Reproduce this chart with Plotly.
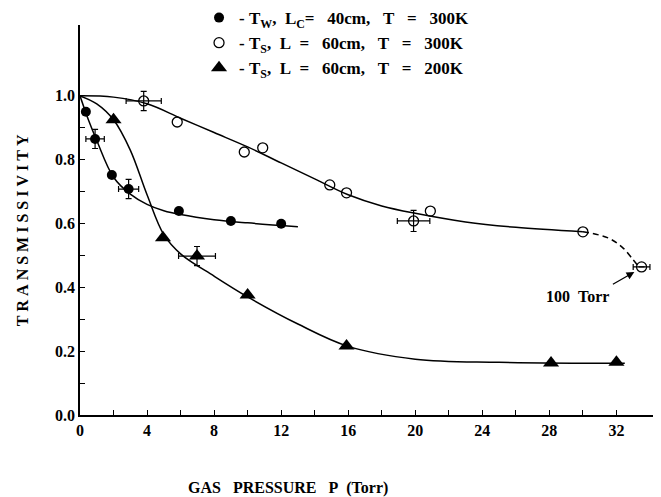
import plotly.graph_objects as go

# ---- data ----
# Filled circles: T_W, L_C = 40 cm, T = 300 K
tw_p = [0.35, 0.9, 1.9, 2.9, 5.9, 9.0, 12.0]
tw_t = [0.95, 0.865, 0.752, 0.708, 0.639, 0.608, 0.599]
tw_ex = [None, 0.55, None, 0.6, None, None, None]
tw_ey = [None, 0.03, None, 0.03, None, None, None]
tw_fit_p = [0, 0.5, 1, 2, 3, 4, 5, 6, 8, 10, 13]
tw_fit_t = [1.0, 0.925, 0.86, 0.745, 0.692, 0.66, 0.64, 0.628, 0.612, 0.602, 0.59]

# Open circles: T_S, L = 60 cm, T = 300 K
ts3_p = [3.8, 5.8, 9.8, 10.9, 14.9, 15.9, 19.9, 20.9, 30.0, 33.5]
ts3_t = [0.984, 0.918, 0.824, 0.837, 0.721, 0.696, 0.608, 0.639, 0.574, 0.464]
ts3_ex = [1.05, None, None, None, None, None, 0.97, None, None, 0.5]
ts3_ey = [0.03, None, None, None, None, None, 0.033, None, None, 0.0]
ts3_fit_p = [0, 2, 4, 6, 8, 10, 12, 14, 16, 18, 20, 23, 26, 30]
ts3_fit_t = [1.0, 0.996, 0.975, 0.93, 0.885, 0.84, 0.79, 0.74, 0.69, 0.655, 0.632, 0.605, 0.588, 0.574]
ts3_dash_p = [30.0, 31.5, 32.4, 33.0, 33.25]
ts3_dash_t = [0.574, 0.555, 0.523, 0.486, 0.47]

# Triangles: T_S, L = 60 cm, T = 200 K
ts2_p = [2.0, 4.95, 6.98, 10.0, 15.9, 28.1, 32.0]
ts2_t = [0.925, 0.555, 0.498, 0.376, 0.216, 0.163, 0.165]
ts2_ex = [None, None, 1.1, None, None, None, None]
ts2_ey = [None, None, 0.03, None, None, None, None]
ts2_fit_p = [0, 1, 2, 3, 4, 5, 6, 8, 10, 13, 16, 20, 25, 32.5]
ts2_fit_t = [1.0, 0.975, 0.925, 0.83, 0.69, 0.565, 0.505, 0.435, 0.37, 0.285, 0.215, 0.175, 0.165, 0.162]

x_tickvals = [0, 4, 8, 12, 16, 20, 24, 28, 32]
x_minorvals = [2, 6, 10, 14, 18, 22, 26, 30]
y_tickvals = [0.0, 0.2, 0.4, 0.6, 0.8, 1.0]
y_ticktext = ["0.0", "0.2", "0.4", "0.6", "0.8", "1.0"]
y_minorvals = [0.1, 0.3, 0.5, 0.7, 0.9]

NB = "\u00a0"
legend_names = [
    f"-{NB}T<sub>W</sub>,{NB}{NB}L<sub>C</sub>={NB}{NB}{NB}40cm,{NB}{NB}{NB}T{NB}{NB}{NB}={NB}{NB}{NB}300K",
    f"-{NB}T<sub>S</sub>,{NB}{NB}L{NB}{NB}={NB}{NB}{NB}60cm,{NB}{NB}{NB}T{NB}{NB}{NB}={NB}{NB}{NB}300K",
    f"-{NB}T<sub>S</sub>,{NB}{NB}L{NB}{NB}={NB}{NB}{NB}60cm,{NB}{NB}{NB}T{NB}{NB}{NB}={NB}{NB}{NB}200K",
]

FONT = "Liberation Serif"
BLK = "black"

fig = go.Figure()

# fitted curves
for px, py in [(tw_fit_p, tw_fit_t), (ts3_fit_p, ts3_fit_t), (ts2_fit_p, ts2_fit_t)]:
    fig.add_trace(go.Scatter(x=px, y=py, mode="lines", line=dict(color=BLK, width=1.5, shape="spline", smoothing=1.0),
                             showlegend=False, hoverinfo="skip"))
fig.add_trace(go.Scatter(x=ts3_dash_p, y=ts3_dash_t, mode="lines",
                         line=dict(color=BLK, width=1.5, dash="6px,4px", shape="spline"),
                         showlegend=False, hoverinfo="skip"))


def err_subset(px, py, ex, ey):
    idx = [i for i in range(len(px)) if ex[i] is not None]
    return ([px[i] for i in idx], [py[i] for i in idx],
            [ex[i] for i in idx], [ey[i] if ey[i] is not None else 0 for i in idx])


series = [
    (tw_p, tw_t, tw_ex, tw_ey, dict(symbol="circle", size=10, color=BLK), legend_names[0]),
    (ts3_p, ts3_t, ts3_ex, ts3_ey, dict(symbol="circle-open", size=10, color=BLK, line=dict(width=1.3, color=BLK)), legend_names[1]),
    (ts2_p, ts2_t, ts2_ex, ts2_ey, dict(symbol="triangle-up", size=14, color=BLK), legend_names[2]),
]

# error bars (only on the points that have them), drawn as separate traces
for px, py, ex, ey, mk, nm in series:
    sx, sy, sex, sey = err_subset(px, py, ex, ey)
    fig.add_trace(go.Scatter(
        x=sx, y=sy, mode="markers", marker=dict(size=1, opacity=0), showlegend=False, hoverinfo="skip",
        error_x=dict(type="data", array=sex, color=BLK, thickness=1.2, width=3),
        error_y=dict(type="data", array=sey, color=BLK, thickness=1.2, width=3, visible=any(v > 0 for v in sey))))

# data markers
for px, py, ex, ey, mk, nm in series:
    fig.add_trace(go.Scatter(x=px, y=py, mode="markers", name=nm, marker=mk))

fig.add_annotation(x=29.7, y=0.37, text="<b>100\u00a0\u00a0Torr</b>", showarrow=False,
                   font=dict(family=FONT, size=16, color=BLK))
fig.add_annotation(x=33.07, y=0.448, ax=31.7, ay=0.407, axref="x", ayref="y",
                   text="", showarrow=True, arrowhead=2, arrowsize=1.2, arrowwidth=1.3, arrowcolor=BLK)

fig.add_annotation(xref="paper", yref="paper", x=-0.1, y=0.474, xanchor="center", yanchor="middle", textangle=-90,
                   text="<b>T\u00a0R\u00a0A\u00a0N\u00a0S\u00a0M\u00a0I\u00a0S\u00a0S\u00a0I\u00a0V\u00a0I\u00a0T\u00a0Y</b>",
                   showarrow=False, font=dict(family=FONT, size=16, color=BLK))
fig.add_annotation(xref="paper", yref="paper", x=0.359, y=-0.187, xanchor="center", yanchor="middle",
                   text="<b>GAS\u00a0\u00a0\u00a0PRESSURE\u00a0\u00a0\u00a0P\u00a0\u00a0(Torr)</b>",
                   showarrow=False, font=dict(family=FONT, size=16, color=BLK))

fig.update_layout(
    width=661, height=497,
    margin=dict(l=72, r=9, t=17, b=90, autoexpand=False),
    paper_bgcolor="white", plot_bgcolor="white",
    font=dict(family=FONT, size=16, color=BLK),
    showlegend=True,
    legend=dict(xref="container", yref="paper", x=0.289, y=1.064, xanchor="left", yanchor="top",
                bgcolor="rgba(0,0,0,0)",
                font=dict(family=FONT, size=17, color=BLK, weight="bold"),
                tracegroupgap=0, itemwidth=30),
    xaxis=dict(range=[0, 34.6], showgrid=False, zeroline=False, showline=True, linecolor=BLK, linewidth=1.5,
               tickmode="array", tickvals=x_tickvals, ticks="inside", ticklen=5, tickwidth=1.2, tickcolor=BLK,
               tickfont=dict(family=FONT, size=16, color=BLK, weight="bold"),
               minor=dict(tickmode="array", tickvals=x_minorvals, ticks="inside", ticklen=5, tickwidth=1.2, tickcolor=BLK)),
    yaxis=dict(range=[0, 1.222], showgrid=False, zeroline=False, showline=True, linecolor=BLK, linewidth=1.5,
               tickmode="array", tickvals=y_tickvals, ticktext=y_ticktext, ticks="inside", ticklen=5, tickwidth=1.2,
               tickcolor=BLK, tickfont=dict(family=FONT, size=16, color=BLK, weight="bold"),
               minor=dict(tickmode="array", tickvals=y_minorvals, ticks="inside", ticklen=5, tickwidth=1.2, tickcolor=BLK)),
)

fig.write_html("out.html")
